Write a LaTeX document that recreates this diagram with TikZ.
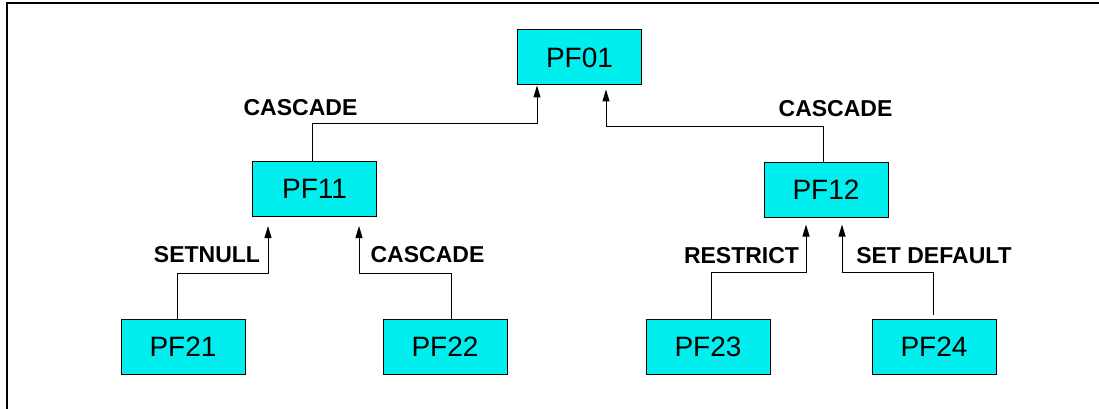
\documentclass[tikz,border=0pt]{standalone}
\usepackage{fontspec}
\setmainfont{Liberation Sans}
\usetikzlibrary{arrows.meta, positioning, calc}
\definecolor{cTable}{RGB}{0,238,238}
\tikzset{
	tbl/.style ={rectangle, draw=black, line width=1pt, fill=cTable, minimum width=124pt, minimum height=55pt, inner sep=0pt, font=\fontsize{28}{32}\selectfont},
	rulelbl/.style={inner sep=0pt, font=\fontsize{23}{27}\selectfont\bfseries},
	refarrow/.style={-{Triangle[length=12pt, width=7pt]}, line width=1pt},
}
\begin{document}
\begin{tikzpicture}[x=1pt, y=-1pt]
	\useasboundingbox (0,0) rectangle (1099,409);
	\draw[line width=1.5pt] (7,409) -- (7,3) -- (1099,3);
	\node[tbl] (pf01) at (579.5,57.5) {PF01};
	\node[tbl] (pf11) at (314.5,189) {PF11};
	\node[tbl] (pf12) at (826,189.5) {PF12};
	\node[tbl] (pf21) at (183,347) {PF21};
	\node[tbl, right=137pt of pf21] (pf22) {PF22};
	\node[tbl, right=138pt of pf22] (pf23) {PF23};
	\node[tbl, right=101pt of pf23] (pf24) {PF24};
	\node[rulelbl] (cas1) at (300.5,108) {CASCADE};
	\node[rulelbl] (cas2) at (835.5,109) {CASCADE};
	\node[rulelbl] (setnull) at (207,255) {SETNULL};
	\node[rulelbl] (cas3) at (427.5,255) {CASCADE};
	\node[rulelbl] (restrict) at (741.5,256) {RESTRICT};
	\node[rulelbl] (setdef) at (934,256) {SET DEFAULT};
	\draw[refarrow] ([xshift=-2.5pt]pf11.north) -- ++(0,-38) -| ([xshift=-42.5pt]pf01.south);
	\draw[refarrow, shorten >=4pt] ([xshift=-3pt]pf12.north) -- ++(0,-35) -| ([xshift=26.5pt]pf01.south);
	\draw[refarrow, shorten >=9pt] ([xshift=-6pt]pf21.north) -- ++(0,-46) -| ([xshift=-46.5pt]pf11.south);
	\draw[refarrow, shorten >=9pt] ([xshift=6.5pt]pf22.north) -- ++(0,-46) -| ([xshift=44.5pt]pf11.south);
	\draw[refarrow, shorten >=7pt] ([xshift=3.5pt]pf23.north) -- ++(0,-47) -| ([xshift=-20pt]pf12.south);
	\draw[refarrow, shorten <=4pt, shorten >=7pt] ([xshift=-1pt]pf24.north) -- ++(0,-47) -| ([xshift=16pt]pf12.south);
\end{tikzpicture}
\end{document}
